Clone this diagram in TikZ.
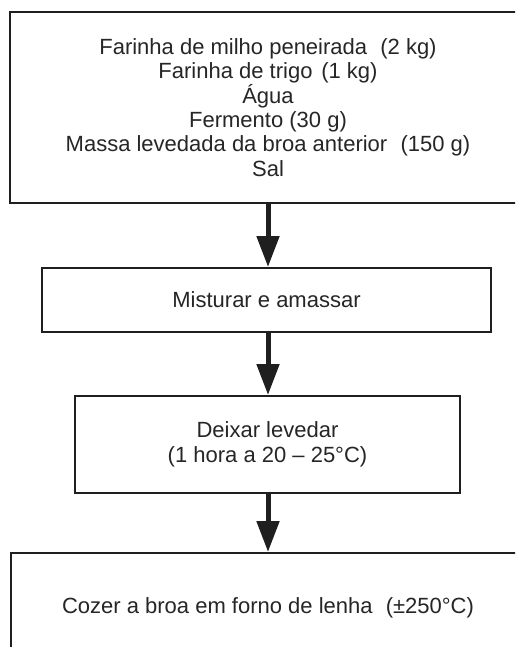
\documentclass[tikz,border=0pt]{standalone}
\usepackage{fontspec}
\setmainfont{Liberation Sans}
\usetikzlibrary{arrows.meta}
\begin{document}
\begin{tikzpicture}[x=1pt,y=-1pt,
  box/.style={draw=black!88, line width=2pt, rectangle, inner sep=0pt, align=center,
    font=\fontsize{22}{24.4}\selectfont, text=black!85},
  flow/.style={draw=black!88, line width=5pt, -{Triangle[width=22pt,length=31pt]}}
]
\useasboundingbox (0,0) rectangle (515,647);
\clip (0,0) rectangle (515,647);
\fill[white] (0,0) rectangle (515,647);
\node[box, minimum width=516pt, minimum height=191pt] (ing) at (268,107.5)
  {Farinha de milho peneirada\hspace{0.6em}(2 kg)\\Farinha de trigo\hspace{0.4em}(1 kg)\\Água\\Fermento (30 g)\\Massa levedada da broa anterior\hspace{0.6em}(150 g)\\Sal};
\node[box, minimum width=449pt, minimum height=64pt] (mix) at (266.5,300) {Misturar e amassar};
\node[box, minimum width=385pt, minimum height=97pt] (lev) at (267.5,444.5) {Deixar levedar\\(1 hora a 20 -- 25°C)};
\node[box, minimum width=514pt, minimum height=110pt] (coz) at (268,608) {Cozer a broa em forno de lenha\hspace{0.6em}(±250°C)};
\draw[flow] (ing.south -| 268,0) -- (mix.north -| 268,0);
\draw[flow] (mix.south -| 268,0) -- (lev.north -| 268,0);
\draw[flow] (lev.south -| 268,0) -- (coz.north -| 268,0);
\end{tikzpicture}
\end{document}
